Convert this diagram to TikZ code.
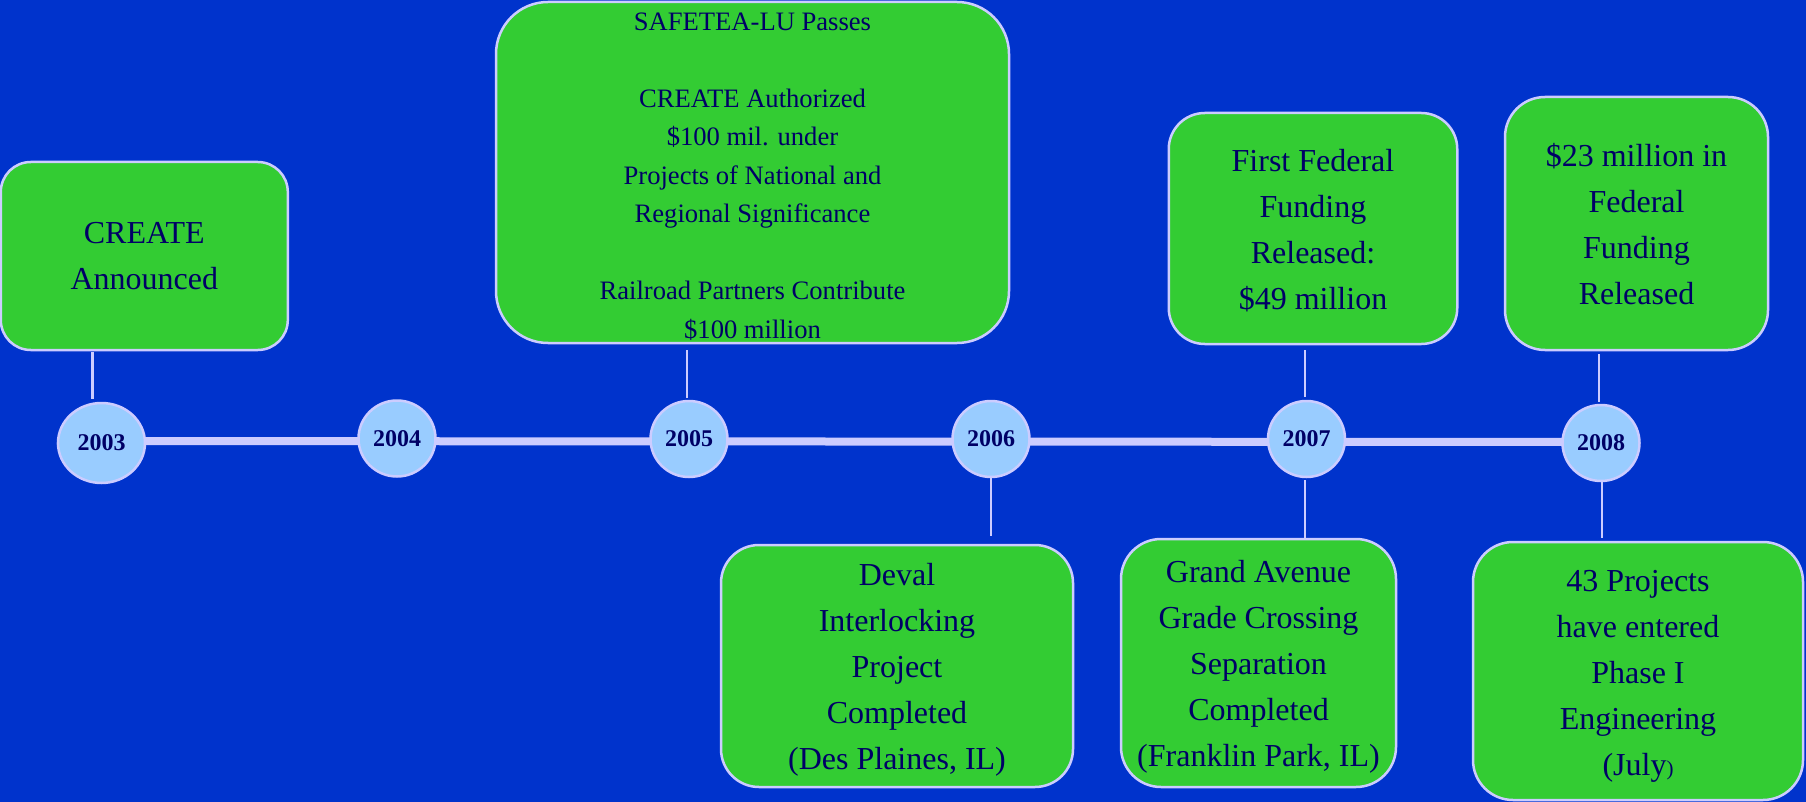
\documentclass[tikz,border=0pt]{standalone}
\usepackage{fontspec}
\setmainfont{Liberation Serif}
\usetikzlibrary{shapes.geometric}
\definecolor{bgblue}{HTML}{0033CC}
\definecolor{boxgreen}{HTML}{33CC33}
\definecolor{lav}{HTML}{CCCCFF}
\definecolor{circfill}{HTML}{99CCFF}
\definecolor{navy}{HTML}{000066}
\newcommand{\tstrut}[1]{\rule{0pt}{#1pt}}
\tikzset{
  box/.style={draw=lav, line width=2.5pt, fill=boxgreen, rectangle, inner sep=0pt,
    align=center, text=navy, font=\fontsize{32}{46}\selectfont},
  yr/.style={draw=lav, line width=2.5pt, fill=circfill, ellipse, inner sep=0pt,
    minimum width=77pt, minimum height=76pt, text=navy, font=\bfseries\fontsize{24}{24}\selectfont},
  conn/.style={draw=lav, line width=2.5pt},
  tline/.style={draw=lav, line width=8pt}
}
\begin{document}
\begin{tikzpicture}[x=1pt,y=-1pt]
\useasboundingbox (0,0) rectangle (1806,802);
\fill[bgblue] (0,0) rectangle (1806,802);

% timeline
\coordinate (tstart) at (57,441);
\coordinate (tend) at (1601,442);
\draw[tline] (tstart) -- (tend);

% year circles
\node[yr, minimum width=87pt, minimum height=80pt] (y2003) at (101.5,443) {2003};
\node[yr] (y2004) at (397,438.5) {2004};
\node[yr] (y2005) at (689,439) {2005};
\node[yr] (y2006) at (991,439) {2006};
\node[yr] (y2007) at (1306.5,439) {2007};
\node[yr] (y2008) at (1601,443) {2008};

% boxes
\node[box, rounded corners=30pt, minimum width=287pt, minimum height=188pt] (b1) at (144.3,256) {CREATE\\Announced};
\node[box, rounded corners=52pt, minimum width=513pt, minimum height=341pt,
  font=\fontsize{26.6}{38.5}\selectfont] (b2) at (752.5,172.5)
  {\tstrut{26}SAFETEA-LU Passes\\[38.5pt]CREATE Authorized\\\$100 mil. under\\Projects of National and\\Regional Significance\\[38.5pt]Railroad Partners Contribute\\\$100 million};
\node[box, rounded corners=36pt, minimum width=288.5pt, minimum height=231pt] (b3) at (1313,228.5)
  {\tstrut{26}First Federal\\Funding\\Released:\\\$49 million};
\node[box, rounded corners=40pt, minimum width=263pt, minimum height=253pt] (b4) at (1636.5,223.5)
  {\tstrut{25}\$23 million in\\Federal\\Funding\\Released};
\node[box, rounded corners=38pt, minimum width=352pt, minimum height=242pt] (b5) at (897,666)
  {\tstrut{29}Deval\\Interlocking\\Project\\Completed\\(Des Plaines, IL)};
\node[box, rounded corners=40pt, minimum width=275pt, minimum height=248pt] (b6) at (1258.5,663)
  {\tstrut{30}Grand Avenue\\Grade Crossing\\Separation\\Completed\\(Franklin Park, IL)};
\node[box, rounded corners=40pt, minimum width=330pt, minimum height=258pt] (b7) at (1638,671)
  {\tstrut{32}43 Projects\\have entered\\Phase I\\Engineering\\(July{\fontsize{21}{46}\selectfont)}};

% connectors
\coordinate (c1a) at (92.7,352); \coordinate (c1b) at (92.7,399);
\draw[conn] (c1a) -- (c1b);
\coordinate (c2a) at (687,350); \coordinate (c2b) at (687,398);
\draw[conn] (c2a) -- (c2b);
\coordinate (c3a) at (991,477); \coordinate (c3b) at (991,536);
\draw[conn] (c3a) -- (c3b);
\coordinate (c4a) at (1305,350); \coordinate (c4b) at (1305,397);
\draw[conn] (c4a) -- (c4b);
\coordinate (c5a) at (1305,480); \coordinate (c5b) at (1305,538);
\draw[conn] (c5a) -- (c5b);
\coordinate (c6a) at (1599,354); \coordinate (c6b) at (1599,402);
\draw[conn] (c6a) -- (c6b);
\coordinate (c7a) at (1602,482); \coordinate (c7b) at (1602,538);
\draw[conn] (c7a) -- (c7b);
\end{tikzpicture}
\end{document}
